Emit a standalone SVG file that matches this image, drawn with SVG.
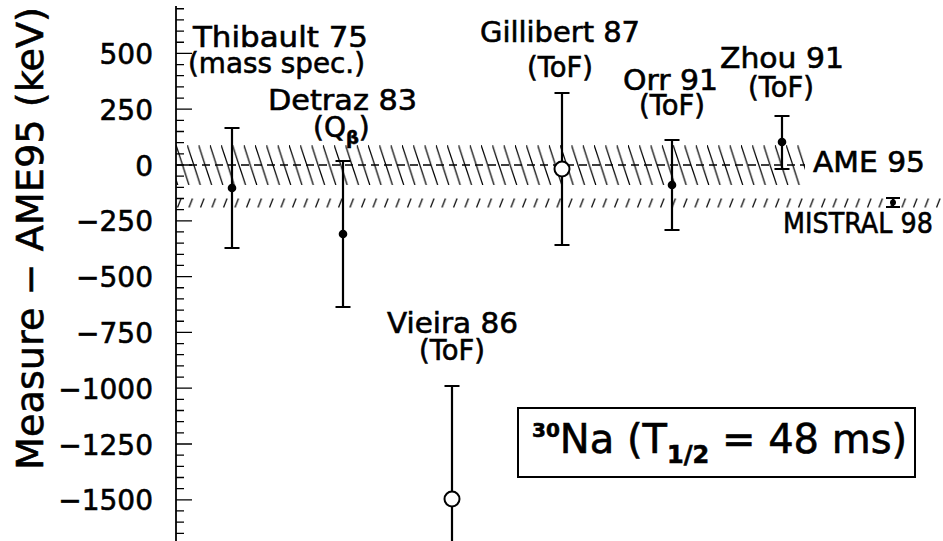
<svg xmlns="http://www.w3.org/2000/svg" width="943" height="541" viewBox="0 0 943 541">
<style>
text{font-family:"DejaVu Sans","Liberation Sans",sans-serif;fill:#000;stroke:#000;stroke-width:0.6}
.lbl{font-size:28px}
.tk{font-size:28px;text-anchor:end}
.eb{stroke:#000;stroke-width:2.2;fill:none}
.dot{fill:#000}
.open{fill:#fff;stroke:#000;stroke-width:2}
.tick{stroke:#000;stroke-width:1.3;fill:none}
</style>
<defs>
<pattern id="hAME" patternUnits="userSpaceOnUse" x="176" y="145" width="11.3" height="40">
<path d="M0 0L13 40M-11.3 0L1.7 40" stroke="#000" stroke-width="1.2"/>
</pattern>
<pattern id="hMIS" patternUnits="userSpaceOnUse" x="176" y="198" width="11.5" height="10">
<path d="M5 0.5L1.5 9.5" stroke="#000" stroke-width="1.2"/>
</pattern>
</defs>
<rect width="943" height="541" fill="#fff"/>
<g id="bands">
<rect x="176" y="145" width="629" height="40" fill="url(#hAME)"/>
<rect x="176" y="198" width="767" height="10" fill="url(#hMIS)"/>
<line x1="176" y1="165" x2="805" y2="165" stroke="#000" stroke-width="1.5" stroke-dasharray="8 5"/>
</g>
<g id="axis">
<line x1="176" y1="6" x2="176" y2="541" stroke="#000" stroke-width="1.8"/>
<path class="tick" d="M176 8.76h8M176 19.92h8M176 31.08h8M176 42.24h8M176 53.4h16M176 64.56h8M176 75.72h8M176 86.88h8M176 98.04h8M176 109.2h16M176 120.36h8M176 131.52h8M176 142.68h8M176 153.84h8M176 165h16M176 176.16h8M176 187.32h8M176 198.48h8M176 209.64h8M176 220.8h16M176 231.96h8M176 243.12h8M176 254.28h8M176 265.44h8M176 276.6h16M176 287.76h8M176 298.92h8M176 310.08h8M176 321.24h8M176 332.4h16M176 343.56h8M176 354.72h8M176 365.88h8M176 377.04h8M176 388.2h16M176 399.36h8M176 410.52h8M176 421.68h8M176 432.84h8M176 444h16M176 455.16h8M176 466.32h8M176 477.48h8M176 488.64h8M176 499.8h16M176 510.96h8M176 522.12h8M176 533.28h8"/>
<text class="tk" x="153" y="64">500</text>
<text class="tk" x="153" y="119.7">250</text>
<text class="tk" x="153" y="175.5">0</text>
<text class="tk" x="153" y="231.3">−250</text>
<text class="tk" x="153" y="287.1">−500</text>
<text class="tk" x="153" y="342.9">−750</text>
<text class="tk" x="153" y="398.7">−1000</text>
<text class="tk" x="153" y="454.5">−1250</text>
<text class="tk" x="153" y="510.3">−1500</text>
<text transform="translate(43,470) rotate(-90)" font-size="38" stroke-width="0.9" textLength="463" lengthAdjust="spacingAndGlyphs">Measure − AME95 (keV)</text>
</g>
<g id="thibault">
<path class="eb" d="M232 128V248M224.5 128h15M224.5 248h15"/>
<circle class="dot" cx="232" cy="188" r="4.3"/>
<text class="lbl" x="193" y="47" textLength="175" lengthAdjust="spacingAndGlyphs">Thibault 75</text>
<text class="lbl" x="188" y="73" textLength="177" lengthAdjust="spacingAndGlyphs">(mass spec.)</text>
</g>
<g id="detraz">
<path class="eb" d="M343 161V307M335.5 161h15M335.5 307h15"/>
<circle class="dot" cx="343" cy="234" r="4.3"/>
<text class="lbl" x="268" y="110" textLength="149" lengthAdjust="spacingAndGlyphs">Detraz 83</text>
<text class="lbl" x="313" y="137" font-size="30">(Q<tspan font-size="18" dy="7" font-weight="bold">β</tspan><tspan dy="-7">)</tspan></text>
</g>
<g id="vieira">
<path class="eb" d="M452 386V541M444.5 386h15"/>
<circle class="open" cx="452" cy="499" r="7.5"/>
<text class="lbl" x="387" y="333" textLength="131" lengthAdjust="spacingAndGlyphs">Vieira 86</text>
<text class="lbl" x="419" y="360" textLength="66" lengthAdjust="spacingAndGlyphs">(ToF)</text>
</g>
<g id="gillibert">
<path class="eb" d="M562 93V245M554.5 93h15M554.5 245h15"/>
<circle class="open" cx="562" cy="169" r="7.5"/>
<text class="lbl" x="480" y="42" textLength="160" lengthAdjust="spacingAndGlyphs">Gillibert 87</text>
<text class="lbl" x="527" y="77" textLength="66" lengthAdjust="spacingAndGlyphs">(ToF)</text>
</g>
<g id="orr">
<path class="eb" d="M672 140V230M664.5 140h15M664.5 230h15"/>
<circle class="dot" cx="672" cy="185" r="4.3"/>
<text class="lbl" x="623" y="90" textLength="95" lengthAdjust="spacingAndGlyphs">Orr 91</text>
<text class="lbl" x="639" y="115" textLength="66" lengthAdjust="spacingAndGlyphs">(ToF)</text>
</g>
<g id="zhou">
<path class="eb" d="M782 116V169M774.5 116h15M774.5 169h15"/>
<circle class="dot" cx="782" cy="142" r="4.3"/>
<text class="lbl" x="720" y="68" textLength="124" lengthAdjust="spacingAndGlyphs">Zhou 91</text>
<text class="lbl" x="748" y="97" textLength="66" lengthAdjust="spacingAndGlyphs">(ToF)</text>
</g>
<g id="ame95">
<text class="lbl" x="813" y="172" textLength="112" lengthAdjust="spacingAndGlyphs">AME 95</text>
</g>
<g id="mistral98">
<path class="eb" d="M893 198V207M886 198h14M886 207h14"/>
<circle class="dot" cx="893" cy="202.5" r="3"/>
<text class="lbl" x="783" y="233" textLength="150" lengthAdjust="spacingAndGlyphs">MISTRAL 98</text>
</g>
<g id="legend">
<rect x="518" y="408" width="397" height="69" fill="#fff" stroke="#000" stroke-width="2"/>
<text x="532" y="453" font-size="40" stroke-width="0.8"><tspan font-size="20" dy="-16" font-weight="bold">30</tspan><tspan dy="16">Na (T</tspan><tspan font-size="24" dy="10" font-weight="bold">1/2</tspan><tspan dy="-10"> = 48 ms)</tspan></text>
</g>
</svg>
